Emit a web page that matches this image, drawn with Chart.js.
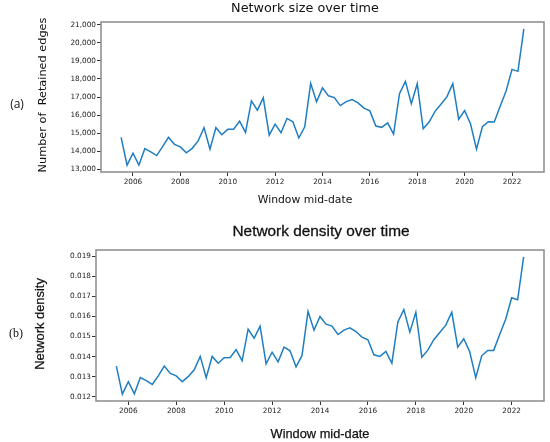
<!DOCTYPE html>
<html>
<head>
<meta charset="utf-8">
<script src="https://cdn.jsdelivr.net/npm/chart.js"></script>
<style>
  html, body { margin: 0; padding: 0; background: #fff; }
  .wrap { position: relative; width: 550px; height: 442px; }
  canvas { position: absolute; left: 0; top: 0; }
</style>
</head>
<body>
<div class="wrap">
  <canvas id="sizeChart" width="550" height="442"></canvas>
  <canvas id="densityChart" width="550" height="442"></canvas>
</div>
<script>
// Window mid-dates (quarterly)
const windowDates = [
  2005.5, 2005.75, 2006, 2006.25, 2006.5, 2006.75, 2007, 2007.25, 2007.5, 2007.75,
  2008, 2008.25, 2008.5, 2008.75, 2009, 2009.25, 2009.5, 2009.75, 2010, 2010.25,
  2010.5, 2010.75, 2011, 2011.25, 2011.5, 2011.75, 2012, 2012.25, 2012.5, 2012.75,
  2013, 2013.25, 2013.5, 2013.75, 2014, 2014.25, 2014.5, 2014.75, 2015, 2015.25,
  2015.5, 2015.75, 2016, 2016.25, 2016.5, 2016.75, 2017, 2017.25, 2017.5, 2017.75,
  2018, 2018.25, 2018.5, 2018.75, 2019, 2019.25, 2019.5, 2019.75, 2020, 2020.25,
  2020.5, 2020.75, 2021, 2021.25, 2021.5, 2021.75, 2022, 2022.25, 2022.5
];

// Number of retained edges
const retainedEdges = [
  14780, 13240, 13900, 13240, 14150, 13970, 13770, 14260, 14780, 14390,
  14250, 13920, 14170, 14580, 15310, 14120, 15310, 14920, 15220, 15230,
  15670, 15050, 16790, 16280, 16960, 14900, 15510, 15030, 15820, 15640,
  14740, 15360, 17760, 16740, 17510, 17070, 16970, 16530, 16750, 16860,
  16680, 16390, 16240, 15400, 15330, 15580, 14960, 17190, 17870, 16630,
  17740, 15250, 15620, 16210, 16610, 17010, 17740, 15780, 16260, 15510,
  14120, 15360, 15640, 15620, 16500, 17340, 18530, 18420, 20770
];

// Network density
const networkDensity = [
  0.01353, 0.01213, 0.01275, 0.01215, 0.01296, 0.01280, 0.01261, 0.01304, 0.01353, 0.01316,
  0.01304, 0.01275, 0.01300, 0.01334, 0.01401, 0.01295, 0.01401, 0.01367, 0.01394, 0.01396,
  0.01435, 0.01379, 0.01537, 0.01492, 0.01552, 0.01364, 0.01422, 0.01374, 0.01447, 0.01429,
  0.01349, 0.01406, 0.01625, 0.01532, 0.01600, 0.01562, 0.01552, 0.01510, 0.01532, 0.01543,
  0.01525, 0.01497, 0.01484, 0.01409, 0.01401, 0.01426, 0.01367, 0.01573, 0.01634, 0.01522,
  0.01621, 0.01397, 0.01432, 0.01484, 0.01520, 0.01557, 0.01621, 0.01447, 0.01489, 0.01424,
  0.01295, 0.01404, 0.01431, 0.01431, 0.01510, 0.01586, 0.01693, 0.01683, 0.01897
];

// Tick labels
const yearTicks = [2006, 2008, 2010, 2012, 2014, 2016, 2018, 2020, 2022];
const sizeTicks = [13000, 14000, 15000, 16000, 17000, 18000, 19000, 20000, 21000];
const densityTicks = [0.012, 0.013, 0.014, 0.015, 0.016, 0.017, 0.018, 0.019];

// matplotlib-style 5% margins
function padRange(arr) {
  const lo = Math.min(...arr), hi = Math.max(...arr);
  const m = (hi - lo) * 0.05;
  return [lo - m, hi + m];
}

// draws frame + free text (titles, axis titles, panel labels)
const decorPlugin = {
  id: 'decor',
  afterDatasetsDraw(chart, args, opts) {
    const ctx = chart.ctx;
    const a = chart.chartArea;
    ctx.save();
    ctx.strokeStyle = '#8a8a8a';
    ctx.lineWidth = 1.5;
    ctx.strokeRect(a.left, a.top, a.right - a.left, a.bottom - a.top);
    (opts.texts || []).forEach(t => {
      ctx.save();
      ctx.translate(t.x, t.y);
      if (t.rotate) ctx.rotate(t.rotate);
      ctx.font = t.font;
      ctx.fillStyle = t.color || '#111';
      ctx.textAlign = 'center';
      ctx.textBaseline = 'middle';
      ctx.fillText(t.text, 0, 0);
      if (t.stroke) {
        ctx.strokeStyle = t.color || '#111';
        ctx.lineWidth = t.stroke;
        ctx.strokeText(t.text, 0, 0);
      }
      ctx.restore();
    });
    ctx.restore();
  }
};

function makeChart(id, values, yTickVals, fmtY, box, texts) {
  const [xMin, xMax] = padRange(windowDates);
  const [yMin, yMax] = padRange(values);
  const tickFont = { family: 'DejaVu Sans', size: 7.3 };
  return new Chart(document.getElementById(id).getContext('2d'), {
    type: 'line',
    data: {
      datasets: [{
        data: windowDates.map((d, i) => ({ x: d, y: values[i] })),
        borderColor: '#1f7ec1',
        borderWidth: 1.5,
        pointRadius: 0,
        tension: 0,
        fill: false
      }]
    },
    options: {
      responsive: false,
      animation: false,
      devicePixelRatio: 1,
      layout: { padding: { left: 0, top: box.top, right: 550 - box.right, bottom: 442 - box.bottom - 20 } },
      plugins: {
        legend: { display: false },
        tooltip: { enabled: false },
        decor: { texts: texts }
      },
      scales: {
        x: {
          type: 'linear',
          min: xMin,
          max: xMax,
          afterBuildTicks: s => { s.ticks = yearTicks.map(v => ({ value: v })); },
          afterFit: s => { s.height = 20; },
          ticks: { font: tickFont, color: '#222', padding: 2, maxRotation: 0, autoSkip: false,
                   callback: v => String(v) },
          grid: { drawOnChartArea: false, drawTicks: true, tickLength: 4, color: '#333' },
          border: { display: false }
        },
        y: {
          min: yMin,
          max: yMax,
          afterBuildTicks: s => { s.ticks = yTickVals.map(v => ({ value: v })); },
          afterFit: s => { s.width = box.left; },
          ticks: { font: tickFont, color: '#222', padding: 1, autoSkip: false, callback: fmtY },
          grid: { drawOnChartArea: false, drawTicks: true, tickLength: 4, color: '#333' },
          border: { display: false }
        }
      }
    },
    plugins: [decorPlugin]
  });
}

// (a) Network size over time
makeChart('sizeChart', retainedEdges, sizeTicks,
  v => v.toLocaleString('en-US'),
  { left: 101, top: 22, right: 544, bottom: 172 },
  [
    { text: 'Network size over time', x: 305, y: 9, font: '12.8px "DejaVu Sans"' },
    { text: 'Number of  Retained edges', x: 43, y: 95, rotate: -Math.PI / 2, font: '11.3px "DejaVu Sans"' },
    { text: 'Window mid-date', x: 305, y: 200, font: '10.8px "DejaVu Sans"' },
    { text: '(a)', x: 17, y: 105, font: '12px "Open Sans"' }
  ]);

// (b) Network density over time
makeChart('densityChart', networkDensity, densityTicks,
  v => v.toFixed(3),
  { left: 96, top: 250, right: 544, bottom: 401 },
  [
    { text: 'Network density over time', x: 321, y: 232, font: '15.4px "Liberation Sans"', stroke: 0.3 },
    { text: 'Network density', x: 40, y: 324, rotate: -Math.PI / 2, font: '12.9px "Liberation Sans"', stroke: 0.25 },
    { text: 'Window mid-date', x: 320, y: 434, font: '12.8px "Liberation Sans"', stroke: 0.25 },
    { text: '(b)', x: 16, y: 334, font: '12px "Liberation Serif"' }
  ]);
</script>
</body>
</html>
